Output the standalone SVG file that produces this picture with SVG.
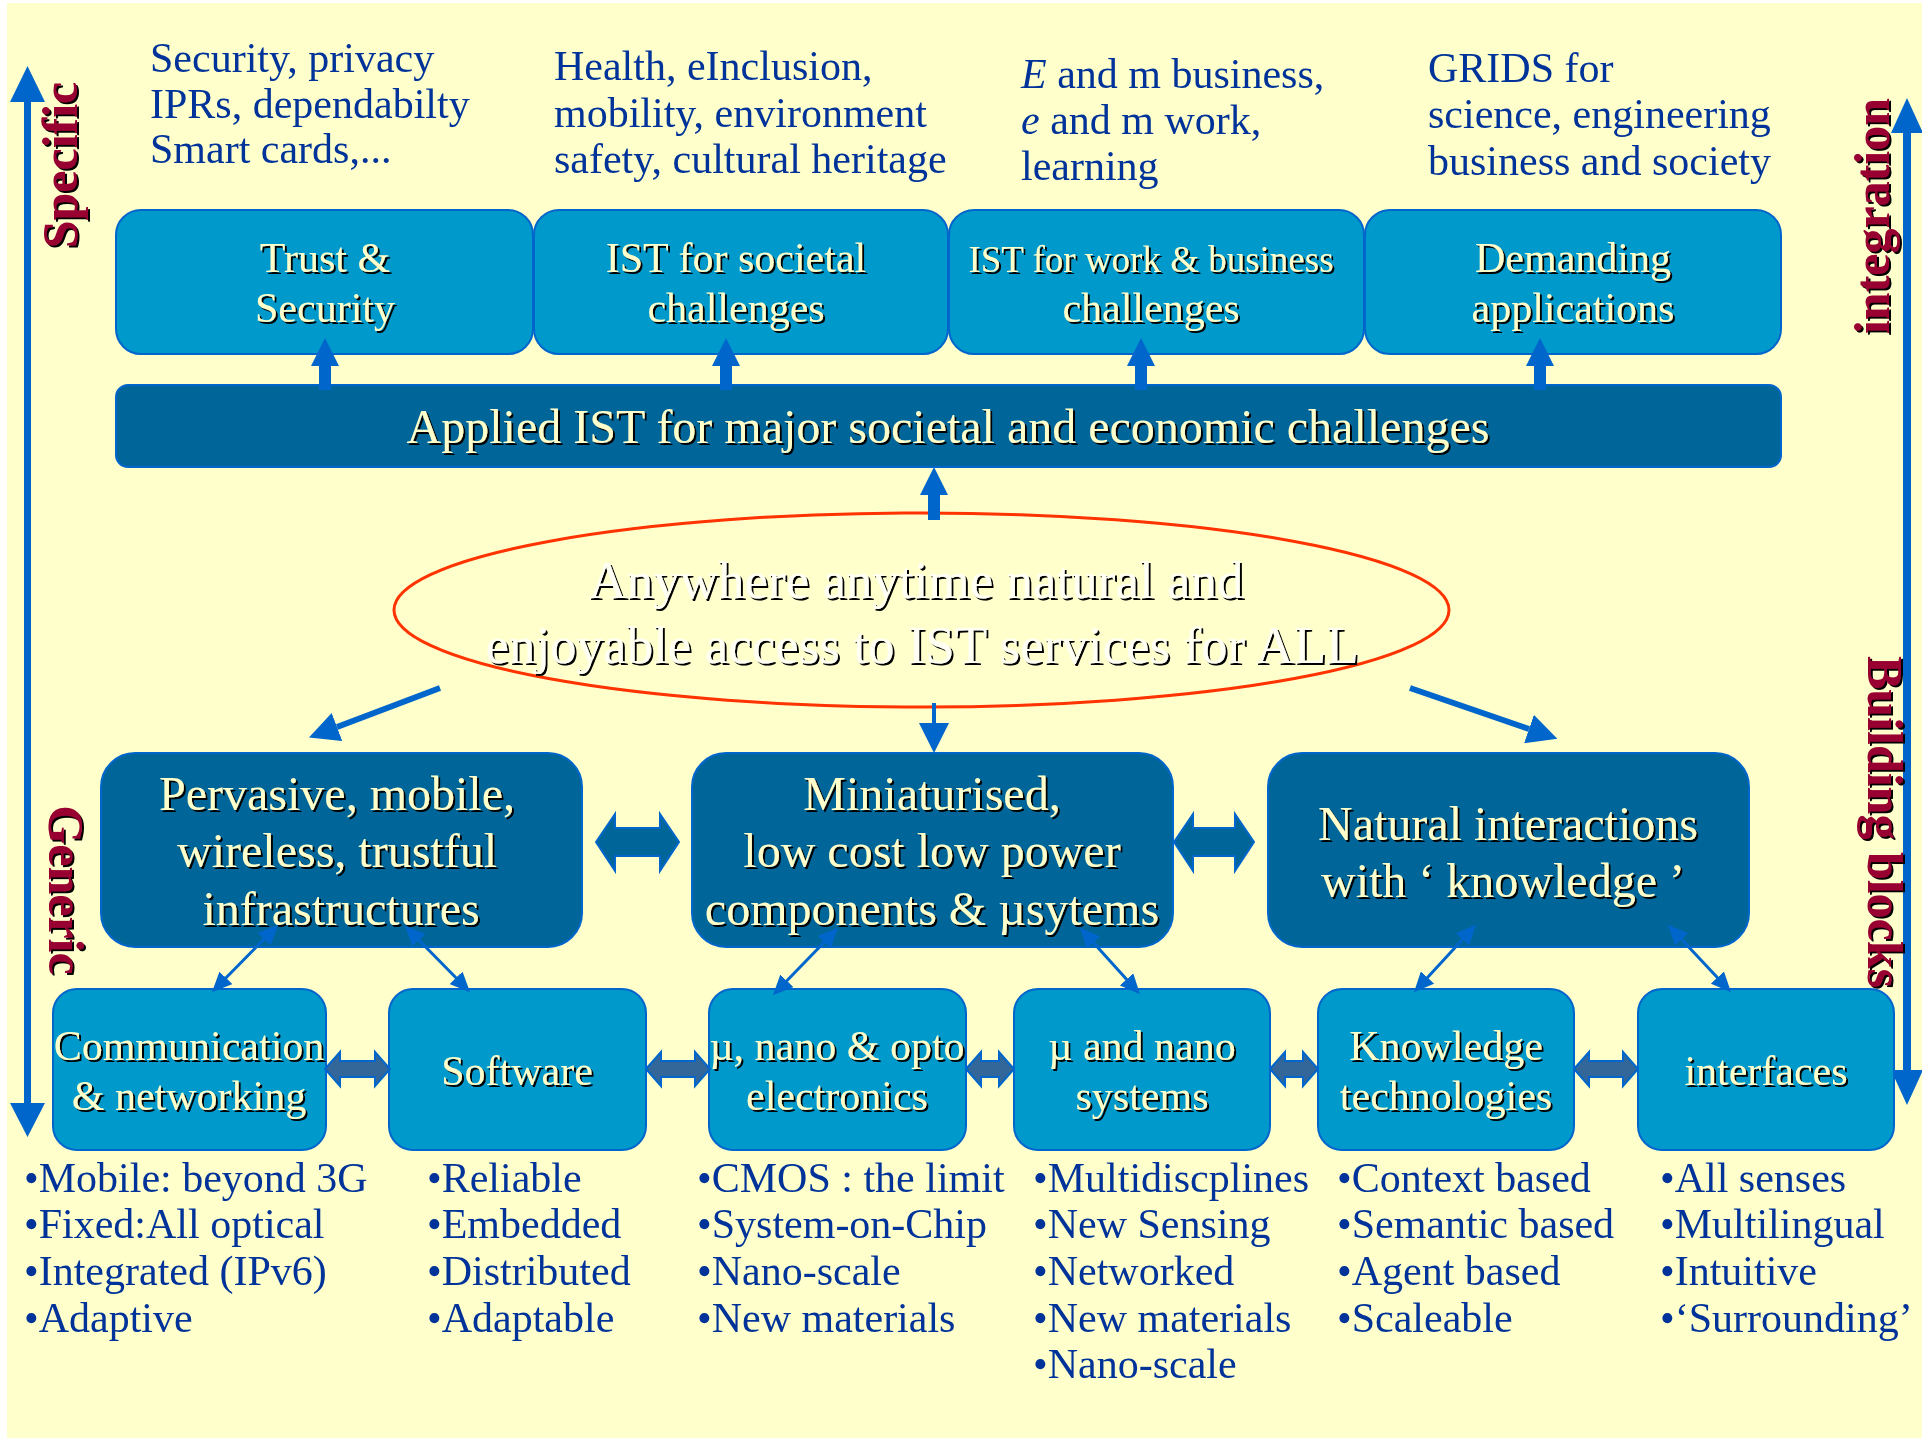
<svg xmlns="http://www.w3.org/2000/svg" width="1922" height="1438" viewBox="0 0 1922 1438">
<defs>
<filter id="sh" x="-10%" y="-20%" width="120%" height="140%">
<feDropShadow dx="2" dy="2" stdDeviation="0" flood-color="#000000" flood-opacity="1"/>
</filter>
<marker id="hd" markerUnits="userSpaceOnUse" markerWidth="30" markerHeight="30" refX="0" refY="15" orient="auto">
<path d="M0,0 L30,15 L0,30 Z" fill="#0066CC"/>
</marker>
<marker id="sm" markerUnits="userSpaceOnUse" markerWidth="20" markerHeight="18" refX="17" refY="9" orient="auto-start-reverse">
<path d="M0,0 L20,9 L0,18 Z" fill="#0066CC"/>
</marker>
<style>
.ann{font-family:"Liberation Serif","Times New Roman",serif;font-size:42px;fill:#003399}
.bt{font-family:"Liberation Serif","Times New Roman",serif;font-size:42px;fill:#FFFFCC;text-anchor:middle}
.bts{font-size:37px}
.mt{font-family:"Liberation Serif","Times New Roman",serif;font-size:48px;fill:#FFFFCC;text-anchor:middle}
.et{font-family:"Liberation Serif","Times New Roman",serif;font-size:53px;fill:#FFFFF4;text-anchor:middle}
.side{font-family:"Liberation Serif","Times New Roman",serif;font-size:50px;font-weight:bold;fill:#990033;text-anchor:middle}
.box1{fill:#0099CC;stroke:#0066CC;stroke-width:2}
.box2{fill:#006699;stroke:#0066CC;stroke-width:2}
.dbl{fill:#006699;stroke:#0066CC;stroke-width:2}
.dbs{fill:#336699;stroke:#0066CC;stroke-width:2}
.up{fill:#0066CC}
.thin{stroke:#0066CC;stroke-width:3;fill:none;marker-start:url(#sm);marker-end:url(#sm)}
.thick{stroke:#0066CC;fill:none;marker-end:url(#hd)}
</style>
</defs>
<rect x="0" y="0" width="1922" height="1438" fill="#FFFFFF"/>
<rect x="7" y="3" width="1915" height="1435" fill="#FFFFCC"/>

<g id="axes">
<path d="M27.5,66 L45,102 L31,102 L31,1103 L45,1103 L27.5,1137 L10,1103 L24,1103 L24,102 L10,102 Z" fill="#0066CC"/>
<path d="M1907,98 L1923,133 L1911,133 L1911,1070 L1923,1070 L1907,1105 L1891,1070 L1903,1070 L1903,133 L1891,133 Z" fill="#0066CC"/>
<g filter="url(#sh)">
<text class="side" transform="translate(77,165) rotate(-90)">Specific</text>
<text class="side" transform="translate(49,890) rotate(90)">Generic</text>
<text class="side" transform="translate(1889,216) rotate(-90)">integration</text>
<text class="side" transform="translate(1868,822) rotate(90)">Building blocks</text>
</g>
</g>

<g id="annotations-top">
<text class="ann" x="150" y="72">Security, privacy</text>
<text class="ann" x="150" y="118">IPRs, dependabilty</text>
<text class="ann" x="150" y="163">Smart cards,...</text>
<text class="ann" x="554" y="80">Health, eInclusion,</text>
<text class="ann" x="554" y="127">mobility, environment</text>
<text class="ann" x="554" y="173">safety, cultural heritage</text>
<text class="ann" x="1021" y="88"><tspan font-style="italic">E</tspan> and m business,</text>
<text class="ann" x="1021" y="134"><tspan font-style="italic">e</tspan> and m work,</text>
<text class="ann" x="1021" y="180">learning</text>
<text class="ann" x="1428" y="82">GRIDS for</text>
<text class="ann" x="1428" y="128">science, engineering</text>
<text class="ann" x="1428" y="175">business and society</text>
</g>

<g id="trust-security">
<rect class="box1" x="116" y="210" width="417" height="144" rx="25"/>
<text class="bt" x="325" y="272" filter="url(#sh)">Trust &amp;</text>
<text class="bt" x="325" y="322" filter="url(#sh)">Security</text>
</g>
<g id="ist-societal">
<rect class="box1" x="534" y="210" width="414" height="144" rx="25"/>
<text class="bt" x="736" y="272" filter="url(#sh)">IST for societal</text>
<text class="bt" x="736" y="322" filter="url(#sh)">challenges</text>
</g>
<g id="ist-work-business">
<rect class="box1" x="949" y="210" width="415" height="144" rx="25"/>
<text class="bt bts" x="1151" y="272" filter="url(#sh)">IST for work &amp; business</text>
<text class="bt" x="1151" y="322" filter="url(#sh)">challenges</text>
</g>
<g id="demanding-applications">
<rect class="box1" x="1365" y="210" width="416" height="144" rx="25"/>
<text class="bt" x="1573" y="272" filter="url(#sh)">Demanding</text>
<text class="bt" x="1573" y="322" filter="url(#sh)">applications</text>
</g>

<g id="applied-ist">
<rect class="box2" x="116" y="385" width="1665" height="82" rx="12"/>
<text class="mt" x="948" y="443" filter="url(#sh)">Applied IST for major societal and economic challenges</text>
</g>

<g id="vision">
<ellipse cx="921.5" cy="610" rx="527.5" ry="97" fill="none" stroke="#FF3300" stroke-width="3"/>
<text class="et" x="916" y="598" filter="url(#sh)">Anywhere anytime natural and</text>
<text class="et" x="922" y="663" filter="url(#sh)">enjoyable access to IST services for ALL</text>
</g>

<g id="pervasive">
<rect class="box2" x="101" y="753" width="481" height="194" rx="34"/>
<text class="mt" x="337" y="810" filter="url(#sh)">Pervasive, mobile,</text>
<text class="mt" x="337" y="867" filter="url(#sh)">wireless, trustful</text>
<text class="mt" x="341" y="925" filter="url(#sh)">infrastructures</text>
</g>
<g id="miniaturised">
<rect class="box2" x="692" y="753" width="481" height="194" rx="34"/>
<text class="mt" x="932" y="810" filter="url(#sh)">Miniaturised,</text>
<text class="mt" x="932" y="867" filter="url(#sh)">low cost low power</text>
<text class="mt" x="932" y="925" filter="url(#sh)">components &amp; µsytems</text>
</g>
<g id="natural-interactions">
<rect class="box2" x="1268" y="753" width="481" height="194" rx="34"/>
<text class="mt" x="1508" y="840" filter="url(#sh)">Natural interactions</text>
<text class="mt" x="1503" y="897" filter="url(#sh)">with ‘ knowledge ’</text>
</g>

<g id="communication">
<rect class="box1" x="53" y="989" width="273" height="161" rx="24"/>
<text class="bt" x="189" y="1060" filter="url(#sh)">Communication</text>
<text class="bt" x="189" y="1110" filter="url(#sh)">&amp; networking</text>
</g>
<g id="software">
<rect class="box1" x="389" y="989" width="257" height="161" rx="24"/>
<text class="bt" x="517" y="1085" filter="url(#sh)">Software</text>
</g>
<g id="opto-electronics">
<rect class="box1" x="709" y="989" width="257" height="161" rx="24"/>
<text class="bt" x="837" y="1060" filter="url(#sh)">µ, nano &amp; opto</text>
<text class="bt" x="837" y="1110" filter="url(#sh)">electronics</text>
</g>
<g id="nano-systems">
<rect class="box1" x="1014" y="989" width="256" height="161" rx="24"/>
<text class="bt" x="1142" y="1060" filter="url(#sh)">µ and nano</text>
<text class="bt" x="1142" y="1110" filter="url(#sh)">systems</text>
</g>
<g id="knowledge-tech">
<rect class="box1" x="1318" y="989" width="256" height="161" rx="24"/>
<text class="bt" x="1446" y="1060" filter="url(#sh)">Knowledge</text>
<text class="bt" x="1446" y="1110" filter="url(#sh)">technologies</text>
</g>
<g id="interfaces">
<rect class="box1" x="1638" y="989" width="256" height="161" rx="24"/>
<text class="bt" x="1766" y="1085" filter="url(#sh)">interfaces</text>
</g>

<g id="annotations-bottom">
<text class="ann" x="24" y="1192">•Mobile: beyond 3G</text>
<text class="ann" x="24" y="1238">•Fixed:All optical</text>
<text class="ann" x="24" y="1285">•Integrated (IPv6)</text>
<text class="ann" x="24" y="1332">•Adaptive</text>
<text class="ann" x="427" y="1192">•Reliable</text>
<text class="ann" x="427" y="1238">•Embedded</text>
<text class="ann" x="427" y="1285">•Distributed</text>
<text class="ann" x="427" y="1332">•Adaptable</text>
<text class="ann" x="697" y="1192">•CMOS : the limit</text>
<text class="ann" x="697" y="1238">•System-on-Chip</text>
<text class="ann" x="697" y="1285">•Nano-scale</text>
<text class="ann" x="697" y="1332">•New materials</text>
<text class="ann" x="1033" y="1192">•Multidiscplines</text>
<text class="ann" x="1033" y="1238">•New Sensing</text>
<text class="ann" x="1033" y="1285">•Networked</text>
<text class="ann" x="1033" y="1332">•New materials</text>
<text class="ann" x="1033" y="1378">•Nano-scale</text>
<text class="ann" x="1337" y="1192">•Context based</text>
<text class="ann" x="1337" y="1238">•Semantic based</text>
<text class="ann" x="1337" y="1285">•Agent based</text>
<text class="ann" x="1337" y="1332">•Scaleable</text>
<text class="ann" x="1660" y="1192">•All senses</text>
<text class="ann" x="1660" y="1238">•Multilingual</text>
<text class="ann" x="1660" y="1285">•Intuitive</text>
<text class="ann" x="1660" y="1332">•‘Surrounding’</text>
</g>

<g id="connectors">
<path class="up" d="M319,390 V366 H311 L325,338 L339,366 H331 V390 Z"/>
<path class="up" d="M720,390 V366 H712 L726,338 L740,366 H732 V390 Z"/>
<path class="up" d="M1135,390 V366 H1127 L1141,338 L1155,366 H1147 V390 Z"/>
<path class="up" d="M1534,390 V366 H1526 L1540,338 L1554,366 H1546 V390 Z"/>
<path class="up" d="M928,520 V495 H920 L934,467 L948,495 H940 V520 Z"/>
<line class="thick" x1="440" y1="688" x2="337" y2="727" stroke-width="6"/>
<line class="thick" x1="934" y1="703" x2="934" y2="723" stroke-width="4"/>
<line class="thick" x1="1410" y1="688" x2="1529" y2="729" stroke-width="6"/>
<path class="dbl" d="M596,842 L615,814 V828 H660 V814 L679,842 L660,871 V856 H615 V871 Z"/>
<path class="dbl" d="M1174,842 L1193,814 V828 H1235 V814 L1254,842 L1235,871 V856 H1193 V871 Z"/>
<line class="thin" x1="276" y1="927" x2="214" y2="990"/>
<line class="thin" x1="407" y1="928" x2="468" y2="990"/>
<line class="thin" x1="836" y1="930" x2="775" y2="993"/>
<line class="thin" x1="1082" y1="930" x2="1138" y2="992"/>
<line class="thin" x1="1474" y1="927" x2="1416" y2="990"/>
<line class="thin" x1="1670" y1="927" x2="1729" y2="990"/>
<path class="dbs" d="M325,1069 L340,1052 V1061 H375 V1052 L390,1069 L375,1086 V1077 H340 V1086 Z"/>
<path class="dbs" d="M646,1069 L661,1052 V1061 H695 V1052 L710,1069 L695,1086 V1077 H661 V1086 Z"/>
<path class="dbs" d="M966,1069 L981,1052 V1061 H999 V1052 L1014,1069 L999,1086 V1077 H981 V1086 Z"/>
<path class="dbs" d="M1270,1069 L1285,1052 V1061 H1303 V1052 L1318,1069 L1303,1086 V1077 H1285 V1086 Z"/>
<path class="dbs" d="M1574,1069 L1589,1052 V1061 H1623 V1052 L1638,1069 L1623,1086 V1077 H1589 V1086 Z"/>
</g>
</svg>
